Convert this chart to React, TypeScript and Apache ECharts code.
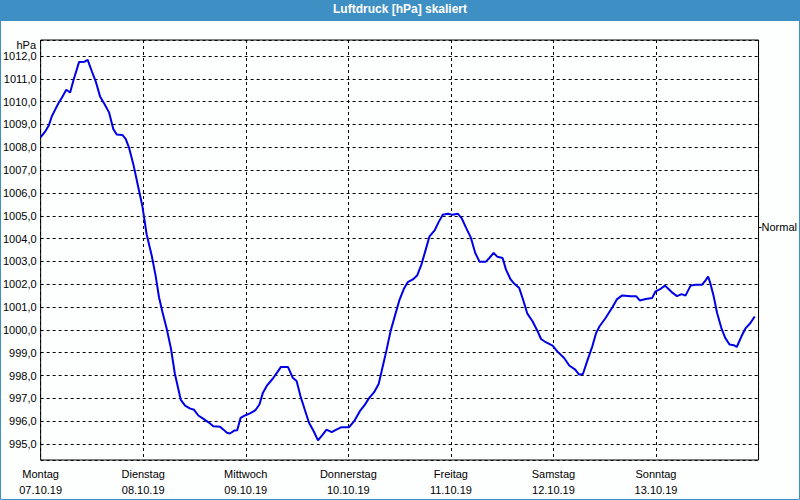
import React, { useEffect, useRef } from "react";
import * as echarts from "echarts";

const TITLE = "Luftdruck [hPa] skaliert";
const UNIT = "hPa";
const DAYS = ["Montag", "Dienstag", "Mittwoch", "Donnerstag", "Freitag", "Samstag", "Sonntag"];
const DATES = ["07.10.19", "08.10.19", "09.10.19", "10.10.19", "11.10.19", "12.10.19", "13.10.19"];
const NORMAL = 1004.5;
const NORMAL_LABEL = "Normal";

const HOURS = [
  0, 1.1, 1.9, 2.6, 3.4, 4.2, 5.0, 6.0, 6.9, 7.7, 9.0, 10.3, 11.0, 12.0, 12.9, 13.9, 14.9, 16.0, 17.0, 17.8,
  19.1, 19.9, 20.7, 21.7, 22.7, 23.8, 24.8, 26.0, 26.9, 27.7, 28.5, 29.5, 30.5, 31.4, 32.8, 33.8, 34.9, 35.9, 36.9,
  38.1, 39.3, 40.4, 42.0, 42.8, 43.6, 44.3, 45.3, 46.0, 46.8, 47.8, 49.0, 50.2, 51.2, 52.0, 53.0, 54.3, 55.4, 56.2, 57.9,
  59.0, 59.9, 60.8, 61.8, 62.8, 63.9, 64.9, 66.0, 66.9, 68.1, 69.2, 70.4, 72.2, 73.5, 74.7, 75.8,
  76.8, 78.0, 79.1, 79.9, 80.9, 81.9, 83.0, 84.0, 85.0, 85.9, 87.1, 88.1, 89.1, 90.0, 91.0, 92.2, 93.1, 94.1, 95.3, 96.4,
  97.6, 98.5, 99.6, 100.7, 101.7, 102.7, 104.2, 105.0, 106.0, 106.9, 108.1, 108.9, 109.9, 110.8,
  112.0, 112.9, 113.9, 115.1, 116.3, 117.1, 118.2, 119.8, 120.9, 122.5, 123.7, 125.1, 126.0, 126.9, 127.9, 129.1, 130.0,
  130.8, 132.2, 133.8, 134.9, 136.1, 138.1, 139.4, 140.2, 141.6, 143.1, 143.9, 145.1, 146.1, 147.0, 147.9, 148.9,
  150.0, 150.9, 152.1, 153.2, 154.8, 155.6, 156.2, 156.7, 157.5, 158.3, 159.3, 160.2, 161.2, 162.2, 162.9, 164.0, 165.0,
  166.1, 167.1,
];

const PRESSURE = [
  1008.44, 1008.7, 1008.95, 1009.35, 1009.65, 1009.94, 1010.18, 1010.52, 1010.4, 1010.95, 1011.74, 1011.75, 1011.83,
  1011.32, 1010.88, 1010.23, 1009.91, 1009.53, 1008.8, 1008.56, 1008.54, 1008.37, 1007.97, 1007.25, 1006.38, 1005.43,
  1004.19, 1003.25, 1002.38, 1001.43, 1000.78, 1000.05, 999.18, 998.09, 996.93, 996.68, 996.56, 996.5, 996.25,
  996.1, 995.95, 995.78, 995.76, 995.63, 995.49, 995.46, 995.59, 995.6, 996.15, 996.25, 996.34, 996.47, 996.73, 997.24,
  997.57, 997.86, 998.15, 998.37, 998.37, 997.9, 997.76, 997.1, 996.51, 995.93, 995.56, 995.16, 995.41, 995.63, 995.52,
  995.63, 995.74, 995.74, 996.04, 996.44, 996.7,
  997.0, 997.26, 997.63, 998.28, 999.08, 999.95, 1000.68, 1001.33, 1001.8, 1002.09, 1002.21, 1002.38, 1002.86, 1003.44,
  1004.1, 1004.36, 1004.71, 1005.04, 1005.09, 1005.04, 1005.09, 1004.9, 1004.46, 1004.03, 1003.37, 1002.99, 1002.99,
  1003.15, 1003.37, 1003.2, 1003.15, 1002.64, 1002.24, 1002.03,
  1001.83, 1001.32, 1000.71, 1000.38, 999.94, 999.6, 999.46, 999.31, 999.06, 998.77, 998.44, 998.26, 998.04, 998.07,
  998.63, 999.28, 999.87, 1000.16, 1000.52, 1000.99, 1001.35, 1001.51, 1001.47, 1001.47, 1001.29, 1001.35, 1001.4,
  1001.69, 1001.8, 1001.94, 1001.78, 1001.62, 1001.48,
  1001.57, 1001.5, 1001.94, 1001.98, 1001.98, 1002.17, 1002.34, 1002.05, 1001.47, 1000.74, 1000.08, 999.65, 999.36,
  999.33, 999.25, 999.72, 1000.08, 1000.3, 1000.59,
];

const Y_MIN = 994.3;
const Y_MAX = 1012.7;
const X_MAX = 168;

export default function App() {
  const ref = useRef<HTMLDivElement>(null);

  useEffect(() => {
    if (!ref.current) return;
    const chart = echarts.init(ref.current, null, { renderer: "svg" });
    const font = "'Liberation Sans', Arial, sans-serif";
    const blue = "#3d8fc4";
    const dashed = { color: "#000", width: 1, type: [3, 3] as number[] };
    const fmt = (v: number) =>
      Math.abs(v - Math.round(v)) < 1e-6 ? v.toFixed(1).replace(".", ",") : "";

    chart.setOption({
      animation: false,
      backgroundColor: "#fdfefe",
      textStyle: { fontFamily: font },
      title: {
        text: TITLE,
        left: "center",
        top: 3,
        padding: 0,
        textStyle: { color: "#fff", fontSize: 12, fontWeight: "bold", fontFamily: font },
      },
      graphic: [
        { type: "rect", z: -1, shape: { x: 0, y: 0, width: 800, height: 21 }, style: { fill: blue } },
        {
          type: "rect",
          z: -1,
          shape: { x: 0.5, y: 0.5, width: 799, height: 499 },
          style: { fill: "none", stroke: blue, lineWidth: 1 },
        },
        {
          type: "text",
          x: 36,
          y: 45,
          style: { text: UNIT, fill: "#000", font: `11px ${font}`, align: "right", verticalAlign: "middle" },
        },
      ],
      grid: {
        left: 40,
        right: 40,
        top: 40,
        bottom: 40,
        show: true,
        borderColor: "#000",
        borderWidth: 1,
        backgroundColor: "transparent",
      },
      xAxis: {
        type: "value",
        min: 0,
        max: X_MAX,
        interval: 24,
        axisLine: { show: false },
        axisTick: { show: false },
        splitLine: { show: true, lineStyle: dashed },
        axisLabel: {
          showMaxLabel: false,
          margin: 6,
          lineHeight: 16,
          fontSize: 11,
          color: "#000",
          fontFamily: font,
          formatter: (v: number) => {
            const i = Math.round(v / 24);
            return i < DAYS.length ? `${DAYS[i]}\n${DATES[i]}` : "";
          },
        },
      },
      yAxis: [
        {
          type: "value",
          min: Y_MIN,
          max: Y_MAX,
          splitNumber: 18,
          minInterval: 1,
          maxInterval: 1,
          axisLine: { show: false },
          axisTick: { show: false },
          splitLine: { show: true, lineStyle: dashed },
          axisLabel: { margin: 4, fontSize: 11, color: "#000", fontFamily: font, formatter: fmt },
        },
        {
          type: "value",
          position: "right",
          min: Y_MIN,
          max: Y_MAX,
          axisLine: { show: false },
          splitLine: { show: false },
          axisTick: { show: true, length: 3, customValues: [NORMAL], lineStyle: { color: "#000" } },
          axisLabel: {
            customValues: [NORMAL],
            margin: 3,
            fontSize: 11,
            color: "#000",
            fontFamily: font,
            formatter: () => NORMAL_LABEL,
          },
        },
      ],
      series: [
        {
          type: "line",
          data: HOURS.map((h, i) => [h, PRESSURE[i]]),
          showSymbol: false,
          lineStyle: { color: "#0000e6", width: 2 },
          itemStyle: { color: "#0000e6" },
        },
      ],
    });

    return () => chart.dispose();
  }, []);

  return (
    <div
      ref={ref}
      style={{ position: "absolute", left: 0, top: 0, width: 800, height: 500 }}
    />
  );
}
